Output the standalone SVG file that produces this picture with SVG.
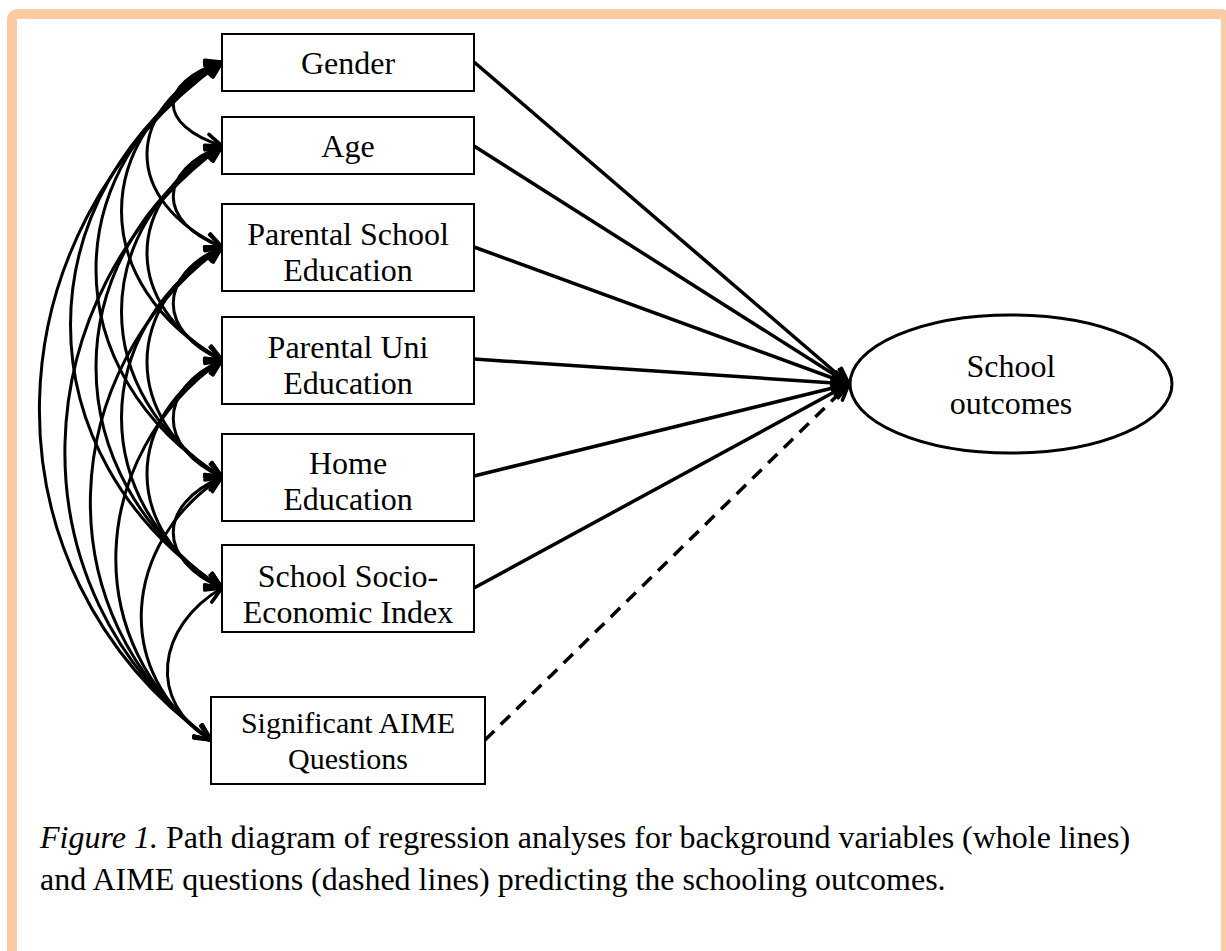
<svg xmlns="http://www.w3.org/2000/svg" width="1226" height="951" viewBox="0 0 1226 951">
<style>
.box{fill:#fff;stroke:#000;stroke-width:2}
.lbl{font-family:"Liberation Serif","Times New Roman",serif;font-size:32px;fill:#000;text-anchor:middle}
.cor{fill:none;stroke:#000;stroke-width:3;marker-start:url(#ah);marker-end:url(#ah)}
.path{fill:none;stroke:#000;stroke-width:3.5;marker-end:url(#ah)}
.cap{font-family:"Liberation Serif","Times New Roman",serif;font-size:32px;fill:#000}
</style>
<defs>
<marker id="ah" viewBox="-20 -10 24 20" refX="0" refY="0" markerWidth="24" markerHeight="20" markerUnits="userSpaceOnUse" orient="auto-start-reverse" overflow="visible">
<path d="M-16,-7 L0,0 L-16,7" fill="none" stroke="#000" stroke-width="3.5" stroke-linecap="round"/>
</marker>
</defs>
<rect x="0" y="0" width="1226" height="951" fill="#fff"/>
<rect x="12" y="14" width="1214" height="1000" rx="5" fill="none" stroke="#FDCBA2" stroke-width="10"/>
<g id="connectors">
<path class="cor" d="M222,62 C157,83 157,125 222,146"/>
<path class="cor" d="M222,146 C157,171 157,222 222,247"/>
<path class="cor" d="M222,247 C157,275 157,332 222,360"/>
<path class="cor" d="M222,360 C157,389 157,448 222,477"/>
<path class="cor" d="M222,477 C157,505 157,560 222,588"/>
<path class="cor" d="M222,588 C157,626 146,702 211,740"/>
<path class="cor" d="M222,62 C122,108 122,201 222,247"/>
<path class="cor" d="M222,146 C122,200 122,306 222,360"/>
<path class="cor" d="M222,247 C122,305 122,419 222,477"/>
<path class="cor" d="M222,360 C122,417 122,531 222,588"/>
<path class="cor" d="M222,477 C122,543 111,674 211,740"/>
<path class="cor" d="M222,62 C88,137 88,285 222,360"/>
<path class="cor" d="M222,146 C88,229 88,394 222,477"/>
<path class="cor" d="M222,247 C88,332 88,503 222,588"/>
<path class="cor" d="M222,360 C88,455 77,645 211,740"/>
<path class="cor" d="M222,62 C54,166 54,373 222,477"/>
<path class="cor" d="M222,146 C54,257 54,477 222,588"/>
<path class="cor" d="M222,247 C54,370 43,617 211,740"/>
<path class="cor" d="M222,62 C20,194 20,456 222,588"/>
<path class="cor" d="M222,146 C20,295 9,591 211,740"/>
<path class="cor" d="M222,62 C-14,232 -25,570 211,740"/>
<path class="path" d="M474,62 L849,384"/>
<path class="path" d="M474,146 L849,384"/>
<path class="path" d="M474,247 L849,384"/>
<path class="path" d="M474,359 L849,384"/>
<path class="path" d="M474,476 L849,384"/>
<path class="path" d="M474,588 L849,384"/>
<path class="path" d="M485,740 L849,384" stroke-dasharray="13,9"/>
</g>
<g id="gender"><rect class="box" x="222" y="34" width="252" height="57"/><text class="lbl" x="348" y="74">Gender</text></g>
<g id="age"><rect class="box" x="222" y="117" width="252" height="57"/><text class="lbl" x="348" y="157">Age</text></g>
<g id="parental-school"><rect class="box" x="222" y="204" width="252" height="87"/><text class="lbl" x="348" y="245">Parental School</text><text class="lbl" x="348" y="281">Education</text></g>
<g id="parental-uni"><rect class="box" x="222" y="317" width="252" height="87"/><text class="lbl" x="348" y="358">Parental Uni</text><text class="lbl" x="348" y="394">Education</text></g>
<g id="home"><rect class="box" x="222" y="434" width="252" height="87"/><text class="lbl" x="348" y="474">Home</text><text class="lbl" x="348" y="510">Education</text></g>
<g id="ses"><rect class="box" x="222" y="545" width="252" height="87"/><text class="lbl" x="348" y="587">School Socio-</text><text class="lbl" x="348" y="623">Economic Index</text></g>
<g id="aime"><rect class="box" x="211" y="697" width="274" height="87"/><text class="lbl" x="348" y="733" style="font-size:30px">Significant AIME</text><text class="lbl" x="348" y="769" style="font-size:30px">Questions</text></g>
<g id="outcomes"><ellipse cx="1011" cy="384" rx="161" ry="69" fill="#fff" stroke="#000" stroke-width="3"/><text class="lbl" x="1011" y="377">School</text><text class="lbl" x="1011" y="414">outcomes</text></g>
<g id="caption">
<text class="cap" x="40" y="848"><tspan font-style="italic">Figure 1.</tspan> Path diagram of regression analyses for background variables (whole lines)</text>
<text class="cap" x="40" y="890">and AIME questions (dashed lines) predicting the schooling outcomes.</text>
</g>
</svg>
